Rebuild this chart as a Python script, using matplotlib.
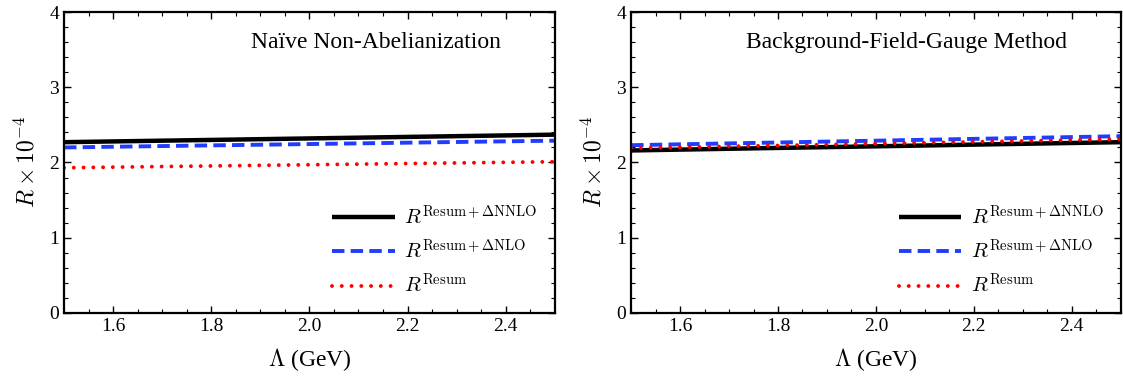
import numpy as np
import matplotlib
matplotlib.use('Agg')
import matplotlib.pyplot as plt

plt.rcParams['font.family'] = ['Liberation Serif', 'DejaVu Serif']
plt.rcParams['mathtext.fontset'] = 'cm'

# Lambda values (GeV) and R x 10^-4
lam = [1.5, 1.75, 2.0, 2.25, 2.5]
# Naive non-abelianization
naive_nnlo = [2.27, 2.295, 2.32, 2.345, 2.37]
naive_nlo = [2.20, 2.223, 2.245, 2.268, 2.29]
naive_res = [1.93, 1.95, 1.97, 1.99, 2.01]
# Background-field-gauge method
bfg_nnlo = [2.16, 2.188, 2.215, 2.243, 2.27]
bfg_nlo = [2.23, 2.26, 2.29, 2.32, 2.35]
bfg_res = [2.19, 2.22, 2.25, 2.28, 2.31]

titles = ['Naïve Non-Abelianization', 'Background-Field-Gauge Method']
labels = [r'$R^{\mathrm{Resum}+\Delta\mathrm{NNLO}}$',
          r'$R^{\mathrm{Resum}+\Delta\mathrm{NLO}}$',
          r'$R^{\mathrm{Resum}}$']

def draw_panel(ax, nnlo, nlo, res, title):
    '''one panel with three curves'''
    ax.plot(lam, nnlo, color='black', lw=3.2, solid_capstyle='butt', label=labels[0])
    ax.plot(lam, nlo, color='#1f3cff', lw=2.8, linestyle=(0, (3.2, 1.6)),
            dash_capstyle='butt', label=labels[1])
    ax.plot(lam, res, color='#ff0000', lw=2.8, linestyle=(0, (0.01, 2.5)),
            dash_capstyle='round', label=labels[2])
    ax.set_xlim(1.5, 2.5)
    ax.set_ylim(0, 4)
    ax.set_xticks([1.6, 1.8, 2.0, 2.2, 2.4])
    ax.set_xticks(np.arange(1.5, 2.51, 0.05), minor=True)
    ax.set_yticks([0, 1, 2, 3, 4])
    ax.set_yticks(np.arange(0, 4.01, 0.2), minor=True)
    ax.tick_params(which='both', direction='in', top=True, right=True, labelsize=14)
    ax.tick_params(which='major', length=5, width=1)
    ax.tick_params(which='minor', length=3, width=0.8)
    for s in ax.spines.values():
        s.set_linewidth(1.6)
    ax.set_xlabel(r'$\Lambda$ (GeV)', fontsize=17, labelpad=8)
    ax.set_ylabel(r'$R\times 10^{-4}$', fontsize=17, labelpad=7)
    ax.text(0.89, 0.9, title, transform=ax.transAxes, ha='right', va='center', fontsize=17)
    ax.legend(loc='upper left', bbox_to_anchor=(0.53, 0.385), frameon=False,
              fontsize=15, handlelength=3.0, handletextpad=0.45, labelspacing=0.48,
              borderaxespad=0)

fig = plt.figure(figsize=(11.23, 3.77), dpi=100)
ax1 = fig.add_axes([0.057, 0.170, 0.437, 0.798])
ax2 = fig.add_axes([0.562, 0.170, 0.436, 0.798])
draw_panel(ax1, naive_nnlo, naive_nlo, naive_res, titles[0])
draw_panel(ax2, bfg_nnlo, bfg_nlo, bfg_res, titles[1])

fig.savefig('out.png', dpi=100)
